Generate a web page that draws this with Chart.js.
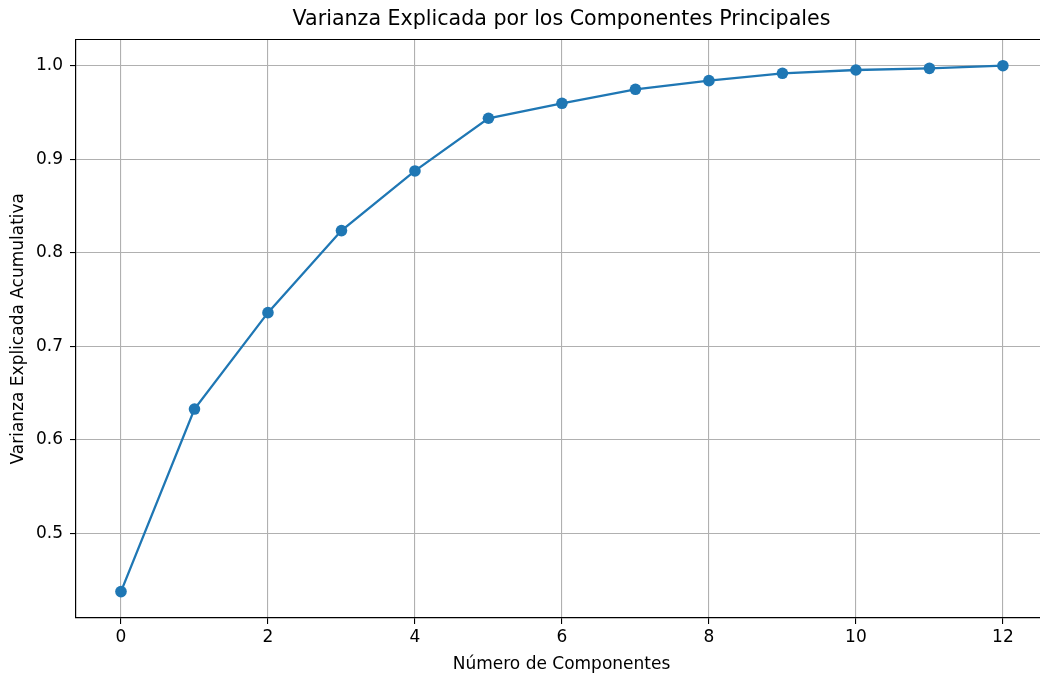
<!DOCTYPE html>
<html>
<head>
<meta charset="utf-8">
<script src="https://cdn.jsdelivr.net/npm/chart.js@4.4.1/dist/chart.umd.min.js"></script>
<style>
  html, body { margin: 0; padding: 0; background: #fff; overflow: hidden; }
  #wrap { position: relative; width: 1040px; height: 675px; overflow: hidden; }
  canvas { position: absolute; left: 0; top: 0; }
</style>
</head>
<body>
<div id="wrap"><canvas id="c" width="1060" height="675"></canvas></div>
<script>
const components = [0, 1, 2, 3, 4, 5, 6, 7, 8, 9, 10, 11, 12];
const cumulativeVariance = [0.4377, 0.6329, 0.7360, 0.8237, 0.8875, 0.9438, 0.9598, 0.9748, 0.9840, 0.9919, 0.9954, 0.9972, 1.0000];
const xTicks = [0, 2, 4, 6, 8, 10, 12];
const yTicks = [0.5, 0.6, 0.7, 0.8, 0.9, 1.0];

const titleText = 'Varianza Explicada por los Componentes Principales';
const xLabel = 'Número de Componentes';
const yLabel = 'Varianza Explicada Acumulativa';

const FONT = 'DejaVu Sans';
const BLUE = '#1f77b4';

const topSpine = {
  id: 'topSpine',
  afterDraw(chart) {
    const { ctx, chartArea } = chart;
    ctx.save();
    ctx.strokeStyle = '#000';
    ctx.lineWidth = 1.2;
    ctx.beginPath();
    ctx.moveTo(chartArea.left, chartArea.top);
    ctx.lineTo(chartArea.right, chartArea.top);
    ctx.stroke();
    ctx.restore();
  }
};

new Chart(document.getElementById('c'), {
  type: 'line',
  data: {
    datasets: [{
      data: components.map((c, i) => ({ x: c, y: cumulativeVariance[i] })),
      borderColor: BLUE,
      backgroundColor: BLUE,
      borderWidth: 2.3,
      pointRadius: 5.8,
      pointHoverRadius: 5.8,
      pointBackgroundColor: BLUE,
      pointBorderColor: BLUE,
      pointBorderWidth: 0,
      tension: 0,
      fill: false
    }]
  },
  options: {
    responsive: false,
    animation: false,
    devicePixelRatio: 1,
    layout: { padding: { left: 0, right: 13, top: 0, bottom: 0 } },
    plugins: {
      legend: { display: false },
      tooltip: { enabled: false },
      title: {
        display: true,
        text: titleText,
        fullSize: false,
        color: '#000',
        font: { family: FONT, size: 20.6, weight: 'normal' },
        padding: { top: 7.6, bottom: 7.2 }
      }
    },
    scales: {
      x: {
        type: 'linear',
        min: -0.612,
        max: 12.6,
        afterBuildTicks: s => { s.ticks = xTicks.map(v => ({ value: v })); },
        afterFit: s => { s.height = 57; },
        ticks: {
          color: '#000',
          font: { family: FONT, size: 17 },
          padding: 3,
          maxRotation: 0,
          callback: v => String(v)
        },
        grid: { color: '#b0b0b0', lineWidth: 1.1, tickColor: '#000', tickLength: 6, drawTicks: true },
        border: { color: '#000', width: 1.2 },
        title: {
          display: true,
          text: xLabel,
          color: '#000',
          font: { family: FONT, size: 17 },
          padding: { top: 2, bottom: 0 }
        }
      },
      y: {
        type: 'linear',
        min: 0.4095,
        max: 1.028,
        afterBuildTicks: s => { s.ticks = yTicks.map(v => ({ value: v })); },
        afterFit: s => { s.width = 76; },
        ticks: {
          color: '#000',
          font: { family: FONT, size: 17 },
          padding: 7,
          callback: v => Number(v).toFixed(1)
        },
        grid: { color: '#b0b0b0', lineWidth: 1.1, tickColor: '#000', tickLength: 6, drawTicks: true },
        border: { color: '#000', width: 1.2 },
        title: {
          display: true,
          text: yLabel,
          color: '#000',
          font: { family: FONT, size: 17 },
          padding: { top: 8, bottom: 0 }
        }
      }
    }
  },
  plugins: [topSpine]
});
</script>
</body>
</html>
